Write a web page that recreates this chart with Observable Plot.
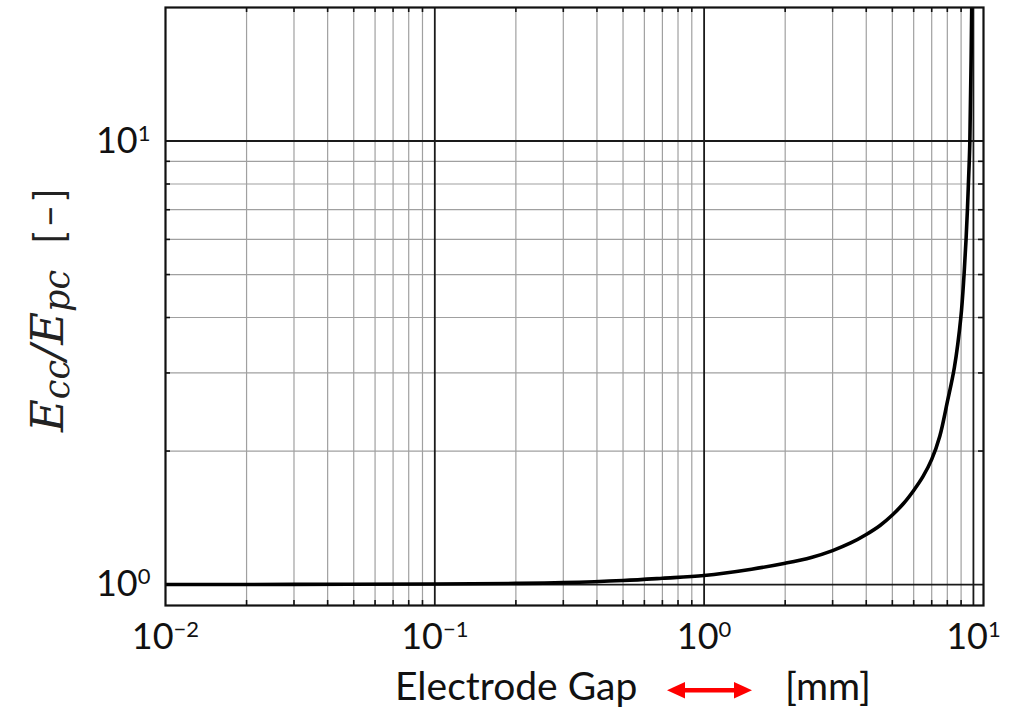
<!DOCTYPE html>
<html><head><meta charset="utf-8">
<script src="https://cdn.jsdelivr.net/npm/d3@7"></script>
<script src="https://cdn.jsdelivr.net/npm/@observablehq/plot@0.6"></script>
<style>body{margin:0;background:#fff;} #chart svg{display:block;}</style>
</head><body><div id="chart"></div>
<script>
// Curve data (electrode gap in mm, field ratio Ecc/Epc)
const gapMm = [0.01, 0.03, 0.1, 0.2, 0.3, 0.5, 0.7, 1, 1.5, 2, 2.5, 3, 3.5, 4, 4.5, 5, 5.5, 6, 6.5, 7, 7.5, 8, 8.5, 8.98, 9.23, 9.39, 9.5, 9.58, 9.65, 9.7, 9.856, 9.915];
const ratio = [1.000, 1.001, 1.003, 1.006, 1.010, 1.021, 1.033, 1.048, 1.083, 1.117, 1.151, 1.193, 1.241, 1.297, 1.359, 1.435, 1.523, 1.630, 1.753, 1.915, 2.16, 2.58, 3.09, 4, 5, 6, 7, 8, 9, 10, 20, 35];

// Axis ticks / grid
const xMajor = [0.01, 0.1, 1, 10];
const xMinor = [0.02,0.03,0.04,0.05,0.06,0.07,0.08,0.09,0.2,0.3,0.4,0.5,0.6,0.7,0.8,0.9,2,3,4,5,6,7,8,9];
const yMajor = [1, 10];
const yMinor = [2,3,4,5,6,7,8,9];
const xLabel = "Electrode Gap";
const xUnit = "[mm]";

const data = gapMm.map((g, i) => ({gap: g, ratio: ratio[i]}));
const W = 1014, H = 711, mL = 165, mR = 31, mT = 7, mB = 106;
const pw = W - mL - mR, ph = H - mT - mB, tk = 5;

const chart = Plot.plot({
  width: W, height: H,
  marginLeft: mL, marginRight: mR, marginTop: mT, marginBottom: mB,
  style: {fontFamily: "Lato, sans-serif", fontSize: "36px", color: "#111", background: "#fff"},
  x: {type: "log", domain: [0.01, 10.9]},
  y: {type: "log", domain: [0.897, 20]},
  marks: [
    Plot.ruleX(xMinor, {stroke: "#a0a0a0", strokeWidth: 1.2}),
    Plot.ruleY(yMinor, {stroke: "#a0a0a0", strokeWidth: 1.2}),
    Plot.ruleX(xMajor.slice(1), {stroke: "#1a1a1a", strokeWidth: 1.8}),
    Plot.ruleY(yMajor, {stroke: "#1a1a1a", strokeWidth: 1.8}),
    // inward minor tick marks on all four sides
    Plot.ruleX(xMinor, {stroke: "#111", strokeWidth: 1.6, insetTop: ph - tk}),
    Plot.ruleX(xMinor, {stroke: "#111", strokeWidth: 1.6, insetBottom: ph - tk}),
    Plot.ruleY(yMinor, {stroke: "#111", strokeWidth: 1.6, insetRight: pw - tk}),
    Plot.ruleY(yMinor, {stroke: "#111", strokeWidth: 1.6, insetLeft: pw - tk}),
    Plot.line(data, {x: "gap", y: "ratio", stroke: "#000", strokeWidth: 3.6, curve: "catmull-rom", clip: true}),
    Plot.frame({stroke: "#111", strokeWidth: 2.2}),
    Plot.axisX({ticks: xMajor, tickSize: 0, tickPadding: 18, label: null,
      tickFormat: d => "10^" + Math.round(Math.log10(d))}),
    Plot.axisY({ticks: yMajor, tickSize: 0, tickPadding: 15, label: null,
      tickFormat: d => "10^" + Math.round(Math.log10(d))})
  ]
});
document.getElementById("chart").appendChild(chart);

const svg = d3.select(chart);
// superscript exponents on tick labels
svg.selectAll("g[aria-label$='tick label'] text").each(function() {
  const t = this.textContent;
  const m = /^10\^(-?\d+)$/.exec(t);
  if (!m) return;
  const el = d3.select(this);
  el.text("");
  el.append("tspan").text("10");
  el.append("tspan").attr("font-size", "22px").attr("dy", "-12")
    .text(m[1].replace("-", "\u2212"));
});

// y-axis title: Ecc/Epc  [−]
const yt = svg.append("text").attr("transform", "translate(63,432) rotate(-90)")
  .attr("text-anchor", "start")
  .attr("fill", "#222").attr("font-family", "'DejaVu Serif', serif").attr("font-style", "italic");
yt.append("tspan").attr("font-size", 45).text("E");
yt.append("tspan").attr("font-size", 35).attr("dy", 6).text("cc");
yt.append("tspan").attr("font-size", 45).attr("dy", -6).text("/");
yt.append("tspan").attr("font-size", 45).text("E");
yt.append("tspan").attr("font-size", 35).attr("dy", 6).text("pc");
yt.append("tspan").attr("font-size", 40).attr("dy", -6).attr("dx", 26)
  .attr("font-family", "Lato, sans-serif").attr("font-style", "normal")
  .attr("letter-spacing", 4).text("[\u2013]");

// x-axis title with red double arrow
svg.append("text").attr("x", 395).attr("y", 700).attr("text-anchor", "start")
  .attr("font-family", "Lato, sans-serif")
  .attr("font-size", 39).attr("fill", "#111").text(xLabel);
svg.append("text").attr("x", 785).attr("y", 700).attr("text-anchor", "start")
  .attr("font-family", "Lato, sans-serif")
  .attr("font-size", 39).attr("fill", "#111").text(xUnit);
const ag = svg.append("g").attr("fill", "#f00").attr("stroke", "none");
ag.append("rect").attr("x", 682).attr("y", 688).attr("width", 55).attr("height", 4.5);
ag.append("path").attr("d", "M667,690.2 L685,682 L685,698.4 Z");
ag.append("path").attr("d", "M752,690.2 L734,682 L734,698.4 Z");
</script>
</body></html>
